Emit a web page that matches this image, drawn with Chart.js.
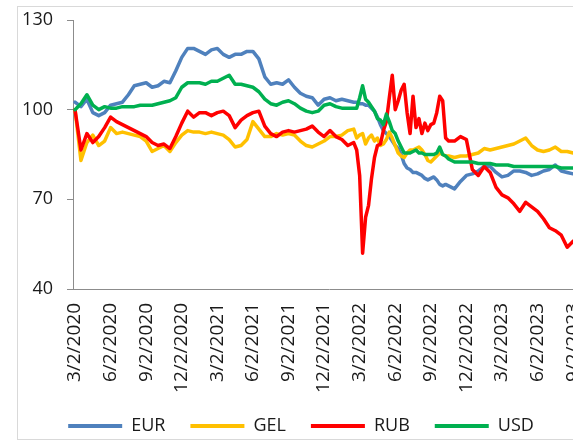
<!DOCTYPE html>
<html><head><meta charset="utf-8">
<script src="https://cdn.jsdelivr.net/npm/chart.js@4.4.1/dist/chart.umd.min.js"></script>
<style>
html,body{margin:0;padding:0;width:573px;height:441px;overflow:hidden;background:#fff;}
#frame{position:absolute;left:17px;top:6px;width:640px;height:432px;border:1px solid #d9d9d9;}
#c{position:absolute;left:0;top:0;}
</style></head><body>
<div id="frame"></div>
<canvas id="c" width="600" height="445"></canvas>
<script>
// x positions: months elapsed since 3/2/2020
const months = [
  0,0.5,1,1.5,2,2.5,3,3.5,4,4.5,5,5.5,6,6.5,7,7.5,8,8.5,9,9.5,10,10.5,11,11.5,12,12.5,13,13.5,14,14.5,15,15.5,16,16.5,17,17.5,18,18.5,19,19.5,20,20.5,21,21.5,22,22.5,23,
  23.5,23.75,24,24.25,24.5,24.75,25,25.25,25.5,25.75,26,26.25,26.5,26.75,27,27.25,27.5,27.75,28,28.25,28.5,28.75,29,29.25,29.5,29.75,30,30.25,30.5,30.75,31,31.25,31.5,
  32,32.5,33,33.5,34,34.5,35,35.5,36,36.5,37,37.5,38,38.5,39,39.5,40,40.5,41,41.5,42
];
const tickMonths = [0,3,6,9,12,15,18,21,24,27,30,33,36,39,42];
const tickLabels = ["3/2/2020","6/2/2020","9/2/2020","12/2/2020","3/2/2021","6/2/2021","9/2/2021","12/2/2021","3/2/2022","6/2/2022","9/2/2022","12/2/2022","3/2/2023","6/2/2023","9/2/2023"];
const yTicks = [40,70,100,130];

const eur = [
  102.5,101,103.5,99,98,99,101.5,102,102.5,105,108,108.5,109,107.5,108,109.5,109,113,117.5,120.5,120.5,119.5,118.5,120,120.5,118.5,117.5,118.5,118.5,119.5,119.5,117,111,108.5,109,108.5,110,107.5,105.5,104.5,104,101.5,103.5,104,103,103.5,103,
  102.5,102.5,102,102,101.5,101.5,100.5,99.5,97.5,95,93,92,91,89.5,88,87,85,82,80.5,80,79,79,78.5,78,77,76.5,77,77.5,76.5,75,74.5,75,74.5,
  73.5,76,78,78.5,79.5,81,81,79,77.5,78,79.5,79.5,79,78,78.5,79.5,80,81.5,79.5,79,78.5
];
const gel = [
  100,83,89,91.5,88,89.5,94,92,92.5,92,91.5,91,89.5,86,87,88,86,89,91.5,93,92.5,92.5,92,92.5,92,91.5,90,87.5,88,90,96,93.5,91,91,92,91.5,92,91.5,89.5,88,87.5,88.5,89.5,91,91,91.5,93,
  93.5,90.5,91.5,92,88.5,90.5,91.5,89.5,90.5,88,88.5,90,92.5,90.5,88,85.5,84.5,84,85.5,86.5,86.5,87,87.5,86.5,85,83,82.5,83.5,84.5,85.5,85,84.5,84.5,
  84,84.5,84.5,85,85.5,87,86.5,87,87.5,88,88.5,89.5,90.5,88,86.5,86,86.5,87.5,86,86,85.5
];
const rub = [
  100,86.5,92,89,91,94,97.5,96,95,94,93,92,91,89,88,88.5,87,91,95.5,99.5,97.5,99,99,98,99,99.5,98,94,96.5,98,99,99.5,94.5,92,91,92.5,93,92.5,93,93.5,94.5,92.5,91,93,91,90,88,
  89,86.5,78,52,64,68,77,84,88,88.5,93,96,104,111.5,100,103,106.5,108.5,99,92,104.5,94,97,92,95.5,93,95,95.5,99,104.5,103,90.5,89.5,
  89.5,91,90,80,78,81,79,74,71.5,70.5,68.5,66,69,67.5,66,63.5,60.5,59.5,58,54,56
];
const usd = [
  100,102,105,101.5,100,101,100.5,100.5,101,101,101,101.5,101.5,101.5,102,102.5,103,104,107.5,109,109,109,108.5,109.5,109.5,110.5,111.5,108.5,108.5,108,107.5,106,103.5,102,101.5,102.5,103,102,100.5,99.5,99,99.5,101.5,102,101,100.5,100.5,
  100.5,100.5,104,108,103.5,102.5,101,99.5,97,96.5,95,98.5,96,93,92,89.5,87.5,85.5,85.5,85.5,86,86.5,85.5,85.5,85,85,85,85,85.5,87.5,85,84.5,83.5,
  82.5,82.5,82.5,82.5,82,82,82,81.5,81.5,81.5,81,81,81,81,81,81,81,81,80.5,80.5,80.5
];

const FONT = {family: "'Open Sans', sans-serif", size: 18};
const XFONT = {family: "'Open Sans', sans-serif", size: 19};
const TXT = '#1a1a1a';
const AXIS = '#8c8c8c';
const pts = arr => months.map((m, i) => ({x: m, y: arr[i]}));
const mk = (label, arr, color) => ({label, data: pts(arr), borderColor: color, backgroundColor: color,
  borderWidth: 3.5, pointRadius: 0, tension: 0, borderJoinStyle: 'round', borderCapStyle: 'round'});

new Chart(document.getElementById('c'), {
  type: 'line',
  data: {datasets: [
    mk('USD', usd, '#00B050'),
    mk('RUB', rub, '#FF0000'),
    mk('GEL', gel, '#FFC000'),
    mk('EUR', eur, '#4F81BD')
  ]},
  options: {
    responsive: false, animation: false, devicePixelRatio: 1,
    layout: {padding: {left: 17, right: 15, top: 20, bottom: 0}},
    plugins: {
      tooltip: {enabled: false},
      legend: {
        position: 'bottom',
        labels: {
          boxWidth: 54, boxHeight: 4, padding: 25, font: FONT, color: TXT,
          sort: (a, b) => b.datasetIndex - a.datasetIndex,
          generateLabels: chart => Chart.defaults.plugins.legend.labels.generateLabels(chart)
            .map(l => Object.assign(l, {lineWidth: 0, fillStyle: l.strokeStyle}))
        }
      }
    },
    scales: {
      x: {
        type: 'linear', min: -0.17, max: 43,
        grid: {display: false, drawTicks: false},
        border: {display: true, color: AXIS, width: 1},
        afterBuildTicks: s => { s.ticks = tickMonths.map(v => ({value: v})); },
        afterFit: s => { s.height = 103; s.paddingLeft = 0; s.paddingRight = 0; },
        ticks: {minRotation: 90, maxRotation: 90, autoSkip: false, padding: 14, font: XFONT, color: TXT,
          callback: v => tickLabels[tickMonths.indexOf(v)]}
      },
      y: {
        min: 40, max: 130,
        afterBuildTicks: s => { s.ticks = yTicks.map(v => ({value: v})); },
        afterFit: s => { s.width = 56; s.paddingTop = 0; s.paddingBottom = 0; },
        grid: {drawOnChartArea: false, drawTicks: true, tickLength: 6, color: AXIS},
        border: {display: true, color: AXIS, width: 1},
        ticks: {padding: 14, font: FONT, color: TXT}
      }
    }
  }
});
</script>
</body></html>
